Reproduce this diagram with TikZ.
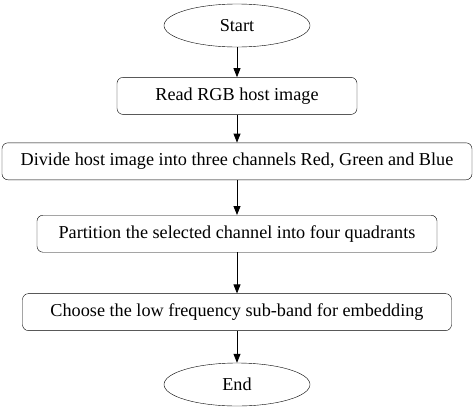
\documentclass[tikz,border=0pt]{standalone}
\usepackage{fontspec}
\setmainfont{Liberation Serif}
\usetikzlibrary{arrows.meta, positioning, shapes.geometric}

\begin{document}
\begin{tikzpicture}[
    x=1pt, y=1pt,
    node distance=30pt,
    box/.style={draw, rounded corners=6pt, minimum height=37pt, inner sep=0pt, align=center, font=\fontsize{18.2}{21}\selectfont},
    term/.style={draw, ellipse, minimum width=146pt, minimum height=43pt, inner sep=0pt, font=\fontsize{18.2}{21}\selectfont},
    arrow/.style={-{Triangle[length=9pt, width=7pt]}, line width=0.8pt}
]
    \useasboundingbox (0,0) rectangle (476,-413);
    \node[term] (start) at (237,-25.5) {Start};
    \node[box, minimum width=240pt, below=30pt of start] (read) {Read RGB host image};
    \node[box, minimum width=470pt, below=28pt of read] (divide) {Divide host image into three channels Red, Green and Blue};
    \node[box, minimum width=400pt, below=35pt of divide] (part) {Partition the selected channel into four quadrants};
    \node[box, minimum width=429pt, below=41pt of part] (choose) {Choose the low frequency sub-band for embedding};
    \node[term, below=32pt of choose] (end) {End};

    \draw[arrow] (start) -- (read);
    \draw[arrow] (read) -- (divide);
    \draw[arrow] (divide) -- (part);
    \draw[arrow] (part) -- (choose);
    \draw[arrow] (choose) -- (end);
\end{tikzpicture}
\end{document}
